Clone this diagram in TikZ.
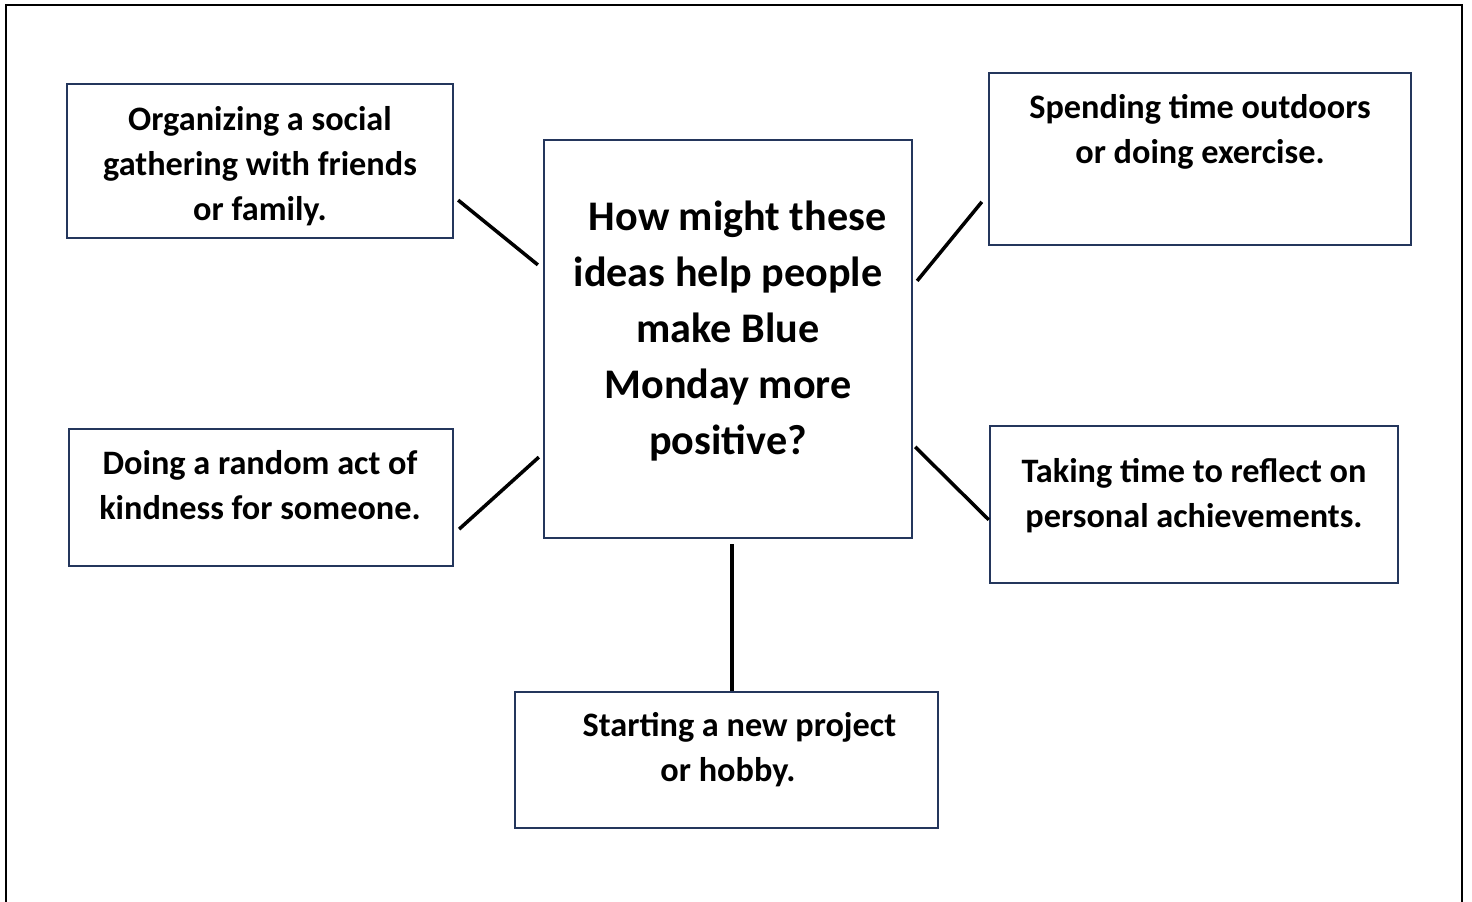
\documentclass[tikz,border=0pt]{standalone}
\usepackage{fontspec}
\setmainfont{Carlito}
\usetikzlibrary{fit}
\definecolor{boxblue}{RGB}{36,54,92}
\begin{document}
\begin{tikzpicture}[x=0.02cm, y=-0.02cm,
        box/.style = {draw=boxblue, line width=1.3pt, inner sep=0pt},
        idea/.style = {font=\bfseries\fontsize{19.5}{25.5}\selectfont, align=center, inner sep=0pt},
        question/.style = {font=\bfseries\fontsize{24}{31.75}\selectfont, align=center, inner sep=0pt},
        link/.style = {line width=2pt}]
            \useasboundingbox (0,0) rectangle (1472,902);
            \draw [line width=1.5pt] (6,5) rectangle (1462,930);
            % boxes, given by their corners
            \node [box, fit={(544,140) (912,538)}] (question) {};
            \node [box, fit={(67,84) (453,238)}] (social) {};
            \node [box, fit={(989,73) (1411,245)}] (outdoors) {};
            \node [box, fit={(69,429) (453,566)}] (kindness) {};
            \node [box, fit={(990,426) (1398,583)}] (reflect) {};
            \node [box, fit={(515,692) (938,828)}] (project) {};
            % texts
            \node [question] (question-txt) at (728,331) {\hspace*{11pt}How might these\\ideas help people\\make Blue\\Monday more\\positive?};
            \node [idea] (social-txt) at (260,166) {Organizing a social\\gathering with friends\\or family.};
            \node [idea] (outdoors-txt) at (1200,132) {Spending time outdoors\\or doing exercise.};
            \node [idea] (kindness-txt) at (260,485) {Doing a random act of\\kindness for someone.};
            \node [idea] (reflect-txt) at (1194,496) {Taking time to reflect on\\personal achievements.};
            \node [idea] (project-txt) at (728,750) {\hspace*{13pt}Starting a new project\\or hobby.};
            % links to the middle box
            \draw [link] ([shift={(4,-39)}]social.south east) -- ([shift={(-5,126)}]question.north west);
            \draw [link] ([shift={(-6,130)}]outdoors.north west) -- ([shift={(4,142)}]question.north east);
            \draw [link] ([shift={(5,-38)}]kindness.south east) -- ([shift={(-4,-82)}]question.south west);
            \draw [link] ([shift={(2,308)}]question.north east) -- ([shift={(0,95)}]reflect.north west);
            \draw [link] ([shift={(0,5)}]question.south -| 732,0) -- (project.north -| 732,0);
        \end{tikzpicture}
\end{document}
